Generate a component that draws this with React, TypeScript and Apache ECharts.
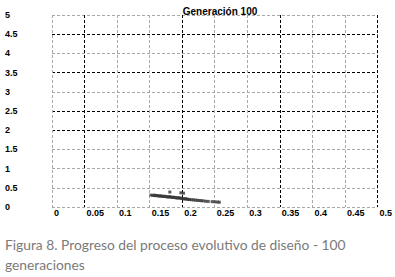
import React, { useEffect, useRef } from "react";
import * as echarts from "echarts";

const title = "Generación 100";
const captionLines = [
  "Figura 8. Progreso del proceso evolutivo de diseño - 100",
  "generaciones",
];

const xTicks = [0, 0.05, 0.1, 0.15, 0.2, 0.25, 0.3, 0.35, 0.4, 0.45, 0.5];
const yTicks = [0, 0.5, 1, 1.5, 2, 2.5, 3, 3.5, 4, 4.5, 5];

const population: [number, number][] = [
  [0.152, 0.31], [0.155, 0.3], [0.157, 0.31], [0.159, 0.295], [0.161, 0.3],
  [0.163, 0.29], [0.165, 0.285], [0.167, 0.29], [0.169, 0.28], [0.171, 0.275],
  [0.173, 0.28], [0.175, 0.27], [0.177, 0.265], [0.179, 0.26], [0.181, 0.27],
  [0.183, 0.255], [0.185, 0.25], [0.187, 0.255], [0.189, 0.245], [0.191, 0.24],
  [0.193, 0.235], [0.195, 0.24], [0.197, 0.23], [0.199, 0.225], [0.201, 0.22],
  [0.203, 0.21], [0.205, 0.215], [0.207, 0.205], [0.209, 0.2], [0.211, 0.195],
  [0.214, 0.19], [0.217, 0.185], [0.22, 0.18], [0.223, 0.175], [0.226, 0.17],
  [0.229, 0.165], [0.232, 0.16], [0.236, 0.15], [0.24, 0.145], [0.246, 0.14],
  [0.25, 0.135], [0.254, 0.13], [0.257, 0.125],
  [0.181, 0.39], [0.198, 0.37], [0.202, 0.36],
];

const G = "#a8a8a8";
const K = "#000000";
const xLineColors = [G, K, G, G, K, G, G, K, G, G, K];
const yLineColors = [G, G, G, G, K, K, G, K, G, K, G];

export default function App() {
  const ref = useRef<HTMLDivElement>(null);
  useEffect(() => {
    if (!ref.current) return;
    const chart = echarts.init(ref.current, null, { renderer: "svg" });
    chart.setOption({
      animation: false,
      backgroundColor: "#ffffff",
      title: {
        text: title,
        left: 215,
        top: 1,
        textAlign: "center",
        textStyle: { fontFamily: "Liberation Sans", fontSize: 10, fontWeight: "bold", color: "#000" },
      },
      grid: { left: 52, right: 17, top: 15, bottom: 70 },
      xAxis: {
        type: "value",
        min: xTicks[0],
        max: xTicks[xTicks.length - 1],
        interval: 0.05,
        axisLine: { show: false },
        axisTick: { show: false },
        axisLabel: {
          margin: 1,
          align: "left",
          padding: [0, 0, 0, 2],
          fontFamily: "Liberation Sans",
          fontSize: 9,
          fontWeight: "bold",
          color: "#000",
          formatter: (v: number) => String(parseFloat(v.toFixed(2))),
        },
        splitLine: { show: true, lineStyle: { color: xLineColors, type: [3, 2], width: 1 } },
      },
      yAxis: {
        type: "value",
        min: yTicks[0],
        max: yTicks[yTicks.length - 1],
        interval: 0.5,
        axisLine: { show: false },
        axisTick: { show: false },
        axisLabel: {
          margin: 47,
          align: "left",
          verticalAlign: "middle",
          padding: [0, 0, 5, 0],
          fontFamily: "Liberation Sans",
          fontSize: 9,
          fontWeight: "bold",
          color: "#000",
          formatter: (v: number) => String(parseFloat(v.toFixed(2))),
        },
        splitLine: { show: true, lineStyle: { color: yLineColors, type: [3, 2], width: 1 } },
      },
      series: [
        {
          type: "scatter",
          data: population,
          symbol: "rect",
          symbolSize: 3,
          itemStyle: { color: "#333" },
        },
      ],
      graphic: captionLines.map((t, i) => ({
        type: "text",
        left: 5,
        top: 237 + i * 20,
        style: { text: t, fill: "#7a7a7a", fontFamily: "Lato", fontSize: 13.8 },
      })),
    });
    return () => chart.dispose();
  }, []);
  return (
    <div
      ref={ref}
      style={{ position: "fixed", left: 0, top: 0, width: 395, height: 277 }}
    />
  );
}
